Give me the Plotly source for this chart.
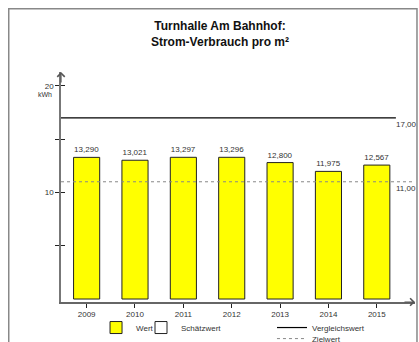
import plotly.graph_objects as go

years = ['2009', '2010', '2011', '2012', '2013', '2014', '2015']
wert = [13.290, 13.021, 13.297, 13.296, 12.800, 11.975, 12.567]
vergleichswert = 17.0
zielwert = 11.0
y_tickvals = [5, 10, 15, 20]
y_ticktext = ['', '10', '', '20']

font = 'Liberation Sans, Arial, sans-serif'
x_pos = list(range(len(years)))

fig = go.Figure()

# bars
fig.add_trace(go.Bar(
    x=x_pos, y=wert, name='Wert', width=0.54,
    marker=dict(color='#ffff00', line=dict(color='#222222', width=1)),
    text=wert, texttemplate='%{y:.3f}', textposition='outside',
    textfont=dict(size=8, color='#333333'), cliponaxis=False,
    legend='legend'
))
# Schätzwert: no values in this chart, legend entry only
fig.add_trace(go.Bar(
    x=[None], y=[None], name='Schätzwert',
    marker=dict(color='#ffffff', line=dict(color='#222222', width=1)),
    legend='legend4'
))

# reference lines (Vergleichswert / Zielwert)
fig.add_shape(type='line', xref='paper', yref='y', x0=0, x1=0.946,
              y0=vergleichswert, y1=vergleichswert,
              line=dict(color='#000000', width=1.2),
              showlegend=True, name='Vergleichswert', legend='legend2')
fig.add_shape(type='line', xref='paper', yref='y', x0=0, x1=0.994,
              y0=zielwert, y1=zielwert,
              line=dict(color='#888888', width=1, dash='dot'),
              showlegend=True, name='Zielwert', legend='legend3')

for v in (vergleichswert, zielwert):
    fig.add_annotation(xref='paper', yref='y', x=0.942, y=v, yshift=-7,
                       text=f'{v:.2f}'.replace('.', ','), showarrow=False,
                       xanchor='left', font=dict(size=8, color='#333333'))

# axis arrows
fig.add_annotation(xref='paper', yref='paper', x=0, y=1.0, ax=0, ay=12,
                   showarrow=True, arrowhead=4, arrowsize=1.2, arrowwidth=1.2,
                   arrowcolor='#555555', text='')
fig.add_annotation(xref='paper', yref='paper', x=1.0, y=0, ax=-12, ay=0,
                   showarrow=True, arrowhead=4, arrowsize=1.2, arrowwidth=1.2,
                   arrowcolor='#555555', text='')

# unit label
fig.add_annotation(xref='paper', yref='y', x=0, y=20, yshift=-9, xshift=-7,
                   text='kWh', showarrow=False, xanchor='right',
                   font=dict(size=7, color='#333333'))

# frame
fig.add_shape(type='rect', xref='paper', yref='paper',
              x0=-0.1476, x1=1.0056, y0=-0.3, y1=1.275,
              line=dict(color='#888888', width=1.5))

legend_style = dict(font=dict(size=8), itemwidth=30, bgcolor='rgba(0,0,0,0)',
                    xanchor='left', yanchor='top', orientation='v')

fig.update_layout(
    width=419, height=342,
    margin=dict(l=61, r=4, t=72, b=40, autoexpand=False),
    paper_bgcolor='white', plot_bgcolor='white',
    separators=',.',
    font=dict(family=font, size=8, color='#333333'),
    title=dict(text='<b>Turnhalle Am Bahnhof:<br>Strom-Verbrauch pro m²</b>',
               x=0.525, xanchor='center', y=0.9117, yanchor='top',
               font=dict(size=12, color='#111111')),
    xaxis=dict(range=[-0.53, 6.79], tickvals=x_pos, ticktext=years,
               showgrid=False, zeroline=False, showline=True,
               linecolor='#666666', linewidth=1.5,
               ticks='outside', ticklen=4, tickcolor='#222222'),
    yaxis=dict(range=[-0.28, 21.3], tickvals=y_tickvals, ticktext=y_ticktext,
               showgrid=False, zeroline=False, showline=True,
               linecolor='#777777', linewidth=1.5,
               ticks='outside', ticklen=4, tickcolor='#222222'),
    yaxis2=dict(range=[-0.28, 21.3], overlaying='y', tickvals=y_tickvals,
                showticklabels=False, showgrid=False, zeroline=False,
                ticks='inside', ticklen=4, tickcolor='#222222', side='left'),
    legend=dict(x=0.099, y=-0.048, **legend_style),
    legend4=dict(x=0.226, y=-0.048, **legend_style),
    legend2=dict(x=0.596, y=-0.048, **legend_style),
    legend3=dict(x=0.596, y=-0.096, **legend_style),
)

# invisible trace so the inner ticks axis is drawn
fig.add_trace(go.Scatter(x=[None], y=[None], yaxis='y2', showlegend=False))

# drop the default page margin so the figure fills the window exactly
fig.write_html('out.html', config={'displayModeBar': False}, post_script=(
    "document.body.style.margin='0';"
    "document.documentElement.style.overflow='hidden';"))
